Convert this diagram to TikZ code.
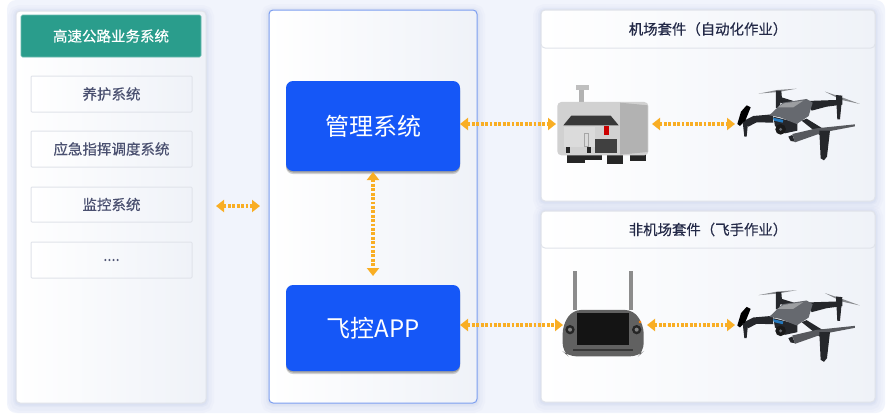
\documentclass[tikz,border=0pt]{standalone}
\usepackage{fontspec}
\setmainfont{Noto Sans CJK SC}
\newfontfamily\cjkm[FakeBold=0.5]{Noto Sans CJK SC}
\usetikzlibrary{arrows.meta}
\definecolor{bgblue}{HTML}{F1F4FC}
\definecolor{glowblue}{HTML}{B9C4E4}
\definecolor{panelend}{HTML}{EFF2F8}
\definecolor{teal}{HTML}{2A9D8C}
\definecolor{itemtext}{HTML}{4A5070}
\definecolor{titletext}{HTML}{232947}
\definecolor{rimgrey}{HTML}{E0E3EA}
\definecolor{centreline}{HTML}{7C9EF0}
\definecolor{mainblue}{HTML}{1557F7}
\definecolor{linkorange}{HTML}{F9AE24}
\definecolor{dronedark}{HTML}{25272B}
\definecolor{dronegrey}{HTML}{66696F}
\definecolor{bladegrey}{HTML}{8A8C90}
\tikzset{
  x=1pt,y=-1pt,
  softglow/.style={
    preaction={draw=glowblue,draw opacity=.07,line width=16pt,transform canvas={yshift=-2pt}},
    preaction={draw=glowblue,draw opacity=.09,line width=11pt,transform canvas={yshift=-2pt}},
    preaction={draw=glowblue,draw opacity=.12,line width=6pt,transform canvas={yshift=-1pt}},
    preaction={draw=glowblue,draw opacity=.15,line width=3pt,transform canvas={yshift=-1pt}}},
  panel/.style={rectangle,rounded corners=4pt,inner sep=0pt,outer sep=0pt,draw=rimgrey,line width=1pt,
    left color=white,right color=panelend,softglow},
  centrepanel/.style={panel,draw=centreline},
  header/.style={rectangle,rounded corners=1.5pt,inner sep=0pt,outer sep=0pt,fill=teal,draw=teal!70!white,line width=.6pt,
    text=white,font=\cjkm\fontsize{14.5}{16}\selectfont},
  itembox/.style={rectangle,rounded corners=1pt,inner sep=0pt,outer sep=0pt,draw=rimgrey,line width=1pt,
    left color=white,right color=panelend,text=itemtext,font=\cjkm\fontsize{14.5}{16}\selectfont},
  titlebox/.style={rectangle,rounded corners=4pt,inner sep=0pt,outer sep=0pt,draw=rimgrey,line width=1pt,
    left color=white,right color=panelend,text=titletext,font=\cjkm\fontsize{14.4}{16}\selectfont},
  bluebox/.style={rectangle,rounded corners=7pt,inner sep=0pt,outer sep=0pt,fill=mainblue,text=white,
    font=\fontsize{24}{28}\selectfont,
    preaction={fill=black!70,fill opacity=.25,transform canvas={yshift=-3pt}},
    preaction={fill=black!70,fill opacity=.35,transform canvas={yshift=-1.5pt}}},
  linkarrow/.style={draw=linkorange,line width=3.4pt,dash pattern=on 2.8pt off 1.6pt,
    {Triangle[width=12pt,length=8pt]}-{Triangle[width=12pt,length=8pt]}},
  drone/.pic={
    \begin{scope}[x=.3333pt,y=-.3333pt]
      \fill[bladegrey] (655,281) -- (712,270) -- (770,266) -- (715,276) -- cycle;
      \fill[bladegrey] (855,275) -- (895,288) -- (960,312) -- (905,300) -- cycle;
      \fill[dronedark] (708,272) -- (724,272) -- (726,296) -- (716,324) -- (708,324) -- cycle;
      \fill[dronedark] (888,285) -- (907,287) -- (900,358) -- (892,358) -- cycle;
      \fill[dronedark] (712,288) -- (770,306) -- (760,322) -- (712,304) -- cycle;
      \fill[dronedark] (800,303) -- (888,300) -- (907,294) -- (907,314) -- (860,320) -- (815,332) -- cycle;
      \fill[dronedark] (698,343) -- (640,348) -- (608,364) -- (625,380) -- (650,367) -- (700,368) -- cycle;
      \fill[dronedark] (785,362) -- (800,356) -- (862,394) -- (845,410) -- cycle;
      \fill[black] (592,372) -- (603,335) -- (620,316) -- (632,322) -- (616,362) -- (600,378) -- cycle;
      \fill[dronedark] (608,365) -- (624,370) -- (620,410) -- (613,410) -- cycle;
      \fill[dronedark] (745,410) -- (757,405) -- (765,425) -- (752,423) -- cycle;
      \fill[dronegrey!85!black] (757,402) -- (830,385) -- (945,373) -- (945,379) -- (850,397) -- (765,427) -- cycle;
      \fill[dronedark] (838,392) -- (870,392) -- (861,470) -- (852,481) -- (842,475) -- cycle;
      \fill[dronedark] (700,350) -- (772,368) -- (772,392) -- (735,400) -- (705,378) -- cycle;
      \fill[dronegrey] (688,346) -- (728,308) -- (800,297) -- (818,308) -- (806,348) -- (770,372) -- (720,352) -- cycle;
      \fill[dronegrey!65!white] (712,322) -- (732,310) -- (790,302) -- (760,322) -- cycle;
      \fill[black!90] (722,388) circle[radius=16];
      \fill[dronegrey] (722,388) circle[radius=5];
      \fill[cyan!60!blue!90!black] (699,353) -- (730,360) -- (728,368) -- (702,362) -- cycle;
    \end{scope}
  },
  station/.pic={
    \begin{scope}[x=.3333pt,y=-.3333pt]
      \fill[black!85] (80,462) rectangle (135,488);
      \fill[black!85] (135,466) rectangle (185,480);
      \fill[black!85] (200,466) rectangle (250,492);
      \fill[black!85] (270,458) rectangle (318,483);
      \fill[black!30] (117,270) rectangle (132,308);
      \fill[black!25] (108,255) rectangle (146,270);
      \fill[black!18,rounded corners=4pt] (52,306) rectangle (325,466);
      \fill[black!30] (240,308) -- (323,316) -- (323,456) -- (240,464) -- cycle;
      \fill[black!78] (70,376) -- (94,347) -- (212,347) -- (236,376) -- cycle;
      \fill[black!14] (72,380) rectangle (164,442);
      \draw[black!35,line width=.5pt] (132,400) rectangle (146,438);
      \fill[black!85] (78,442) rectangle (90,458);
      \fill[black!85] (140,442) rectangle (152,458);
      \fill[red!80!black] (192,378) rectangle (208,405);
      \fill[black!75] (166,418) rectangle (232,460);
    \end{scope}
  },
  controller/.pic={
    \begin{scope}[x=.3333pt,y=-.3333pt]
      \fill[black!45] (99,188) rectangle (112,305);
      \fill[black!45] (266,188) rectangle (279,305);
      \fill[black!62,rounded corners=8pt] (68,352) -- (98,306) -- (280,306) -- (311,352) -- (311,430) -- (295,445) -- (85,445) -- (68,430) -- cycle;
      \fill[black!92] (110,314) rectangle (268,412);
      \fill[black!85] (90,365) circle[radius=14];
      \fill[black!50] (90,365) circle[radius=6];
      \fill[black!85] (290,365) circle[radius=14];
      \fill[black!50] (290,365) circle[radius=6];
      \fill[orange] (300,342) circle[radius=4];
      \fill[black!78] (100,422) rectangle (280,428);
    \end{scope}
  }
}
\begin{document}
\begin{tikzpicture}
\useasboundingbox (0,0) rectangle (890,418);
\fill[bgblue,rounded corners=9pt] (7,0) rectangle (885,413);

% left panel
\node[panel,minimum width=190pt,minimum height=392pt] (leftpanel) at (111,207) {};
\node[header,minimum width=180pt,minimum height=42pt] (hdr) at (111,36) {高速公路业务系统};
\node[itembox,minimum width=161pt,minimum height=36pt] (it1) at (111.5,94) {养护系统};
\node[itembox,minimum width=161pt,minimum height=36pt] (it2) at (111.5,149) {应急指挥调度系统};
\node[itembox,minimum width=161pt,minimum height=35pt] (it3) at (111.5,204.5) {监控系统};
\node[itembox,minimum width=161pt,minimum height=36pt] (it4) at (111.5,260) {....};

% centre panel
\node[centrepanel,minimum width=208pt,minimum height=393pt] (midpanel) at (373,206.5) {};
\node[bluebox,minimum width=174pt,minimum height=90pt] (mgmt) at (373,126) {管理系统};
\node[bluebox,minimum width=174pt,minimum height=86pt] (app) at (373,328) {飞控APP};

% right panels
\node[panel,minimum width=334pt,minimum height=191pt] (toppanel) at (708,105.5) {};
\node[titlebox,minimum width=334pt,minimum height=38pt] (toptitle) at (708,29) {机场套件（自动化作业）};
\node[panel,minimum width=334pt,minimum height=191pt] (botpanel) at (708,306.5) {};
\node[titlebox,minimum width=334pt,minimum height=37pt] (bottitle) at (708,229.5) {非机场套件（飞手作业）};

% equipment
\pic at (540,0) {station};
\pic at (540,0) {drone};
\pic at (540,208) {controller};
\pic at (540,201.5) {drone};

% connector end points
\coordinate (leftend) at (216,206);
\coordinate (rightend) at (260,206);
\coordinate (stationw) at (556,124);
\coordinate (statione) at (652,124);
\coordinate (dronea) at (735,124);
\coordinate (ctrlw) at (563,325);
\coordinate (ctrle) at (647,325);
\coordinate (droneb) at (735,325);
\coordinate (mgmtbelow) at (373,172);
\coordinate (appabove) at (373,276);

\draw[linkarrow] (leftend) -- (rightend);
\draw[linkarrow] (mgmtbelow) -- (appabove);
\draw[linkarrow] (mgmt.east |- stationw) -- (stationw);
\draw[linkarrow] (statione) -- (dronea);
\draw[linkarrow] (app.east |- ctrlw) -- (ctrlw);
\draw[linkarrow] (ctrle) -- (droneb);
\end{tikzpicture}
\end{document}
